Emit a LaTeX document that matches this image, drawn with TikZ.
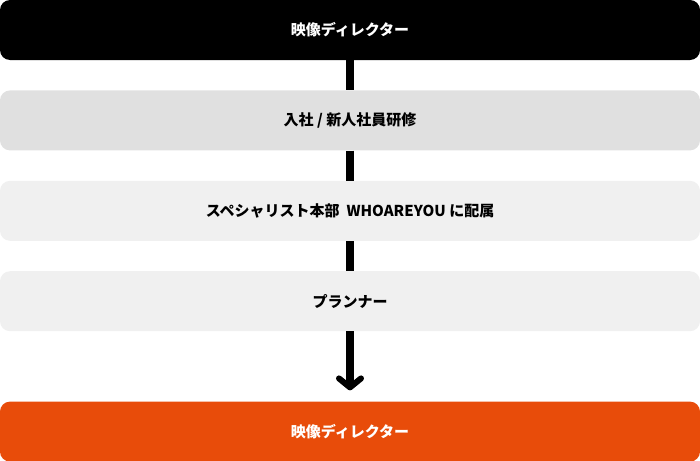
\documentclass[tikz,border=0pt]{standalone}
\usepackage{fontspec}
\setmainfont{Noto Sans CJK JP}
\usepackage{xcolor}
\usepackage{tikz}
\usetikzlibrary{positioning,arrows.meta}

\definecolor{careerorange}{HTML}{E84C0A}
\definecolor{stepgray}{HTML}{E0E0E0}
\definecolor{steplight}{HTML}{F0F0F0}

\begin{document}
\begin{tikzpicture}[x=1pt, y=-1pt, node distance=30pt,
    stage/.style={rounded corners=10pt, minimum width=700pt, minimum height=60pt,
        inner sep=0pt, font=\fontsize{15}{17}\selectfont\bfseries},
    link/.style={line width=8pt}]
    \useasboundingbox (0,0) rectangle (700,460);

    % Career steps
    \node[stage, fill=black, text=white] (director) at (350,30) {映像ディレクター};
    \node[stage, fill=stepgray, below=of director] (training) {入社 / 新人社員研修};
    \node[stage, fill=steplight, below=of training] (specialist) {スペシャリスト本部\ \ WHOAREYOU に配属};
    \node[stage, fill=steplight, below=of specialist] (planner) {プランナー};
    \node[stage, fill=careerorange, text=white, below=70pt of planner] (goal) {映像ディレクター};

    % Connectors
    \draw[link] (director) -- (training);
    \draw[link] (training) -- (specialist);
    \draw[link] (specialist) -- (planner);
    \coordinate (arrowend) at ([yshift=11pt]goal.north);
    \draw[link, -{Straight Barb[length=9pt, width=22pt, line width=6pt, round]}] (planner) -- (arrowend);
\end{tikzpicture}
\end{document}
